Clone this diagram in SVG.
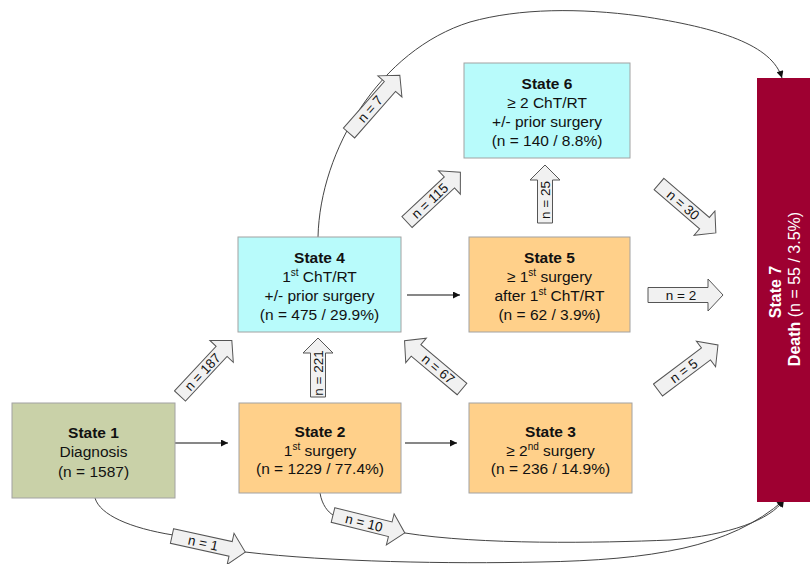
<svg xmlns="http://www.w3.org/2000/svg" width="810" height="564" viewBox="0 0 810 564">
<defs>
<style>
text{font-family:"Liberation Sans",Arial,Helvetica,sans-serif;fill:#111;}
.box{stroke:#a2a2a2;stroke-width:1;}
.green{fill:#c9d1a8;}
.orange{fill:#ffd08a;}
.cyan{fill:#b8fbfb;}
.death{fill:#9e0031;}
.t{font-size:15.5px;text-anchor:middle;}
.b{font-weight:bold;}
.dt{font-size:16px;text-anchor:middle;fill:#fff;}
.ln{fill:none;stroke:#111;stroke-width:1.2;}
.cv{fill:none;stroke:#444;stroke-width:1;}
.ba{fill:#f1f1f1;stroke:#555;stroke-width:1;}
.bl{font-size:13.5px;text-anchor:middle;}
</style>
<marker id="ah" viewBox="0 0 10 10" refX="10" refY="5" markerWidth="9" markerHeight="7" orient="auto" markerUnits="userSpaceOnUse">
<path d="M0,0 L10,5 L0,10 z" fill="#111"/>
</marker>
</defs>
<rect width="810" height="564" fill="#fff"/>

<g id="connectors">
<line class="ln" x1="175" y1="443" x2="228" y2="443" marker-end="url(#ah)"/>
<line class="ln" x1="405" y1="443" x2="457" y2="443" marker-end="url(#ah)"/>
<line class="ln" x1="407" y1="295" x2="460" y2="295" marker-end="url(#ah)"/>
<path class="cv" d="M318,237 C320,150 380,50 470,22 C520,8 580,8 640,16 C720,28 772,45 782,78" marker-end="url(#ah)"/>
<path class="cv" d="M95,498 C100,515 130,528 173,535 L245,552 C330,562 450,564 540,562 C650,560 730,548 784,500" marker-end="url(#ah)"/>
<path class="cv" d="M320,493 C322,505 328,512 333,515 L405,533 C480,545 600,543 670,540 C730,535 770,520 784,500" marker-end="url(#ah)"/>

<g transform="translate(180,396) rotate(-47)"><path class="ba" d="M0,-7.5 H61 V-16 L76,0 L61,16 V7.5 H0 Z"/><text class="bl" x="33" y="4.8">n = 187</text></g>
<g transform="translate(318,397) rotate(-90)"><path class="ba" d="M0,-7.5 H44 V-15 L59,0 L44,15 V7.5 H0 Z"/><text class="bl" x="24" y="4.8">n = 221</text></g>
<g transform="translate(462,389) rotate(-140)"><path class="ba" d="M0,-7.5 H60 V-16 L75,0 L60,16 V7.5 H0 Z"/><text class="bl" x="31" y="0" transform="rotate(180,31,0)" dy="4.8">n = 67</text></g>
<g transform="translate(407,222) rotate(-43)"><path class="ba" d="M0,-7.5 H58 V-16 L73,0 L58,16 V7.5 H0 Z"/><text class="bl" x="31" y="4.8">n = 115</text></g>
<g transform="translate(545,223) rotate(-90)"><path class="ba" d="M0,-7.5 H43 V-15 L58,0 L43,15 V7.5 H0 Z"/><text class="bl" x="23" y="4.8">n = 25</text></g>
<g transform="translate(349,133) rotate(-48.7)"><path class="ba" d="M0,-7.5 H62 V-16 L77,0 L62,16 V7.5 H0 Z"/><text class="bl" x="32" y="4.8">n = 7</text></g>
<g transform="translate(659,184) rotate(40.7)"><path class="ba" d="M0,-7.5 H60 V-16 L75,0 L60,16 V7.5 H0 Z"/><text class="bl" x="32" y="4.8">n = 30</text></g>
<g transform="translate(648,295)"><path class="ba" d="M0,-7.5 H60 V-16 L75,0 L60,16 V7.5 H0 Z"/><text class="bl" x="33" y="4.8">n = 2</text></g>
<g transform="translate(658,390) rotate(-36.9)"><path class="ba" d="M0,-7.5 H60 V-16 L75,0 L60,16 V7.5 H0 Z"/><text class="bl" x="32" y="4.8">n = 5</text></g>
<g transform="translate(172,536) rotate(12.4)"><path class="ba" d="M0,-7.5 H60 V-16 L75,0 L60,16 V7.5 H0 Z"/><text class="bl" x="32" y="4.8">n = 1</text></g>
<g transform="translate(333,515) rotate(14)"><path class="ba" d="M0,-7.5 H59 V-16 L74,0 L59,16 V7.5 H0 Z"/><text class="bl" x="32" y="4.8">n = 10</text></g>
</g>

<g id="state1">
<rect class="box green" x="12" y="403" width="163" height="95"/>
<text class="t b" x="93.5" y="438">State 1</text>
<text class="t" x="93.5" y="457">Diagnosis</text>
<text class="t" x="93.5" y="477">(n = 1587)</text>
</g>

<g id="state2">
<rect class="box orange" x="239" y="403" width="162" height="90"/>
<text class="t b" x="320" y="437">State 2</text>
<text class="t" x="320" y="456">1<tspan font-size="10" dy="-6">st</tspan><tspan dy="6"> surgery</tspan></text>
<text class="t" x="320" y="474">(n = 1229 / 77.4%)</text>
</g>

<g id="state3">
<rect class="box orange" x="469" y="403" width="163" height="90"/>
<text class="t b" x="550.5" y="437">State 3</text>
<text class="t" x="550.5" y="456">≥ 2<tspan font-size="10" dy="-6">nd</tspan><tspan dy="6"> surgery</tspan></text>
<text class="t" x="550.5" y="474">(n = 236 / 14.9%)</text>
</g>

<g id="state4">
<rect class="box cyan" x="238" y="237" width="163" height="95"/>
<text class="t b" x="319.5" y="263">State 4</text>
<text class="t" x="319.5" y="282">1<tspan font-size="10" dy="-6">st</tspan><tspan dy="6"> ChT/RT</tspan></text>
<text class="t" x="319.5" y="301">+/- prior surgery</text>
<text class="t" x="319.5" y="320">(n = 475 / 29.9%)</text>
</g>

<g id="state5">
<rect class="box orange" x="469" y="237" width="161" height="95"/>
<text class="t b" x="549.5" y="263">State 5</text>
<text class="t" x="549.5" y="282">≥ 1<tspan font-size="10" dy="-6">st</tspan><tspan dy="6"> surgery</tspan></text>
<text class="t" x="549.5" y="301">after 1<tspan font-size="10" dy="-6">st</tspan><tspan dy="6"> ChT/RT</tspan></text>
<text class="t" x="549.5" y="320">(n = 62 / 3.9%)</text>
</g>

<g id="state6">
<rect class="box cyan" x="464" y="63" width="166" height="95"/>
<text class="t b" x="547" y="89">State 6</text>
<text class="t" x="547" y="108">≥ 2 ChT/RT</text>
<text class="t" x="547" y="127">+/- prior surgery</text>
<text class="t" x="547" y="146">(n = 140 / 8.8%)</text>
</g>

<g id="state7">
<rect class="death" x="757" y="78" width="56" height="424"/>
<text class="dt b" transform="translate(781,292) rotate(-90)">State 7</text>
<text class="dt" transform="translate(800,289) rotate(-90)"><tspan font-weight="bold">Death</tspan> (n = 55 / 3.5%)</text>
</g>
</svg>
